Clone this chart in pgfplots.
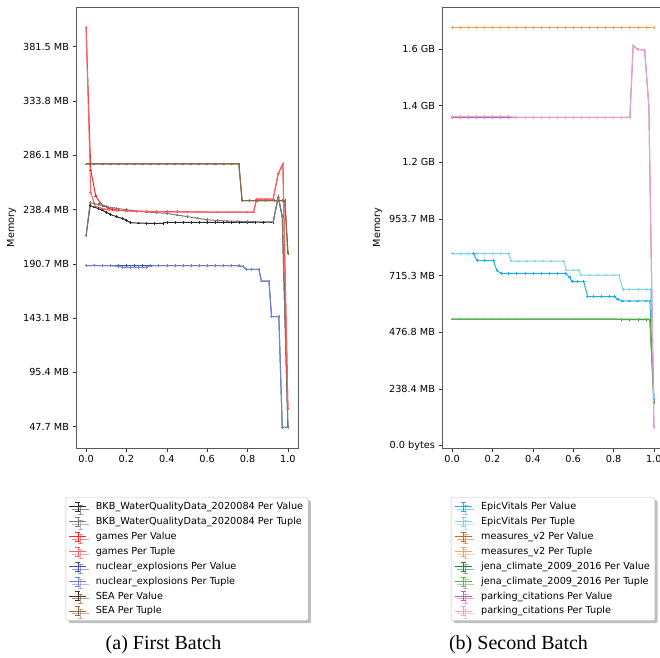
\documentclass[border=0pt]{standalone}
\usepackage{fontspec}
\setmainfont{DejaVu Sans}
\newfontfamily\capfont{Liberation Serif}
\usepackage{pgfplots}
\pgfplotsset{compat=1.18}
\usetikzlibrary{shadows}

\definecolor{bkbv}{HTML}{2B2B2B}
\definecolor{bkbt}{HTML}{7A7A7A}
\definecolor{gamv}{HTML}{EE2A2A}
\definecolor{gamt}{HTML}{FF6060}
\definecolor{nucv}{HTML}{3A4FB0}
\definecolor{nuct}{HTML}{7384C8}
\definecolor{seav}{HTML}{4B3621}
\definecolor{seat}{HTML}{8C6A3F}
\definecolor{epiv}{HTML}{18B0E8}
\definecolor{epit}{HTML}{80D2E6}
\definecolor{meav}{HTML}{D95F1E}
\definecolor{meat}{HTML}{F5A055}
\definecolor{jenv}{HTML}{1A7F37}
\definecolor{jent}{HTML}{5AB84A}
\definecolor{parv}{HTML}{C75AA8}
\definecolor{part}{HTML}{E3A3D5}

\newcommand\tickfont{\fontsize{9.7}{11}\selectfont}

\pgfplotsset{
  ser/.style={color=#1, mark=+, mark size=1.3pt, line width=1pt,
    mark options={solid, line width=0.5pt}},
  memax/.style={
    scale only axis, width=222pt, height=441pt,
    xmin=-0.05, xmax=1.05,
    axis line style={draw=black!65, line width=0.8pt},
    tick align=outside, xtick pos=bottom, ytick pos=left,
    major tick length=3.5pt, tick style={black!80, line width=0.6pt},
    xtick={0,0.2,0.4,0.6,0.8,1.0},
    xticklabels={0.0,0.2,0.4,0.6,0.8,1.0},
    ylabel={Memory}, ylabel style={font=\tickfont},
    ticklabel style={font=\tickfont},
    /pgf/number format/assume math mode=true,
    legend cell align=left,
    legend style={at={(0.5,-0.1118)}, anchor=north, font=\tickfont,
      draw=black!25, rounded corners=2pt, fill=white, drop shadow,
      row sep=2pt, column sep=7pt, inner xsep=3pt, inner ysep=3pt},
    legend image code/.code={
      \draw[#1, mark=none] (0pt,0pt) -- (17pt,0pt);
      \draw[#1, mark=none, line width=0.6pt] (8.5pt,-4.5pt) -- (8.5pt,4.5pt);
      \draw[#1, mark=none, line width=0.6pt] (6pt,4.5pt) -- (11pt,4.5pt);
      \draw[#1, mark=none, line width=0.6pt] (6pt,-4.5pt) -- (11pt,-4.5pt);
    },
  },
}

\begin{document}
\begin{tikzpicture}
\path[use as bounding box] (0,0) rectangle (660pt,-657pt);

\begin{axis}[memax, at={(76pt,-448pt)}, anchor=south west,
  ymin=29.0, ymax=416.2,
  ytick={47.68,95.37,143.05,190.73,238.42,286.10,333.79,381.47},
  yticklabels={47.7 MB,95.4 MB,143.1 MB,190.7 MB,238.4 MB,286.1 MB,333.8 MB,381.5 MB},
]
\addplot[ser=bkbv] coordinates {(0,215.4) (0.02,241.8) (0.04,240.6) (0.06,239.2) (0.08,237.8) (0.10,236.0) (0.12,234.2) (0.15,232.1) (0.18,230.5) (0.20,229.0) (0.22,226.8) (0.26,226.5) (0.30,226.3) (0.34,226.3) (0.38,226.3) (0.40,227.2) (0.44,227.2) (0.48,227.2) (0.52,227.2) (0.56,227.2) (0.60,227.2) (0.64,227.2) (0.68,227.2) (0.72,227.2) (0.76,227.2) (0.80,227.2) (0.84,227.2) (0.88,227.2) (0.927,227.2) (0.952,249.6) (0.972,232.1) (1.0,47.7)};
\addlegendentry{BKB\_WaterQualityData\_2020084 Per Value}
\addplot[ser=bkbt] coordinates {(0,215.4) (0.02,244.4) (0.04,243.6) (0.06,242.7) (0.08,241.8) (0.10,241.0) (0.15,239.5) (0.20,238.2) (0.25,237.0) (0.30,236.2) (0.35,235.6) (0.40,235.0) (0.45,233.6) (0.50,232.2) (0.55,230.8) (0.60,229.4) (0.65,228.8) (0.70,228.3) (0.75,228.0) (0.80,227.8) (0.85,227.6) (0.90,227.5) (0.927,227.5) (0.952,249.6) (0.972,232.1) (1.0,47.7)};
\addlegendentry{BKB\_WaterQualityData\_2020084 Per Tuple}
\addplot[ser=gamv] coordinates {(0,398.4) (0.023,273.1) (0.048,250.3) (0.07,244.1) (0.09,241.5) (0.11,239.7) (0.13,238.6) (0.16,237.8) (0.20,237.3) (0.25,237.0) (0.30,236.8) (0.35,236.6) (0.40,236.5) (0.45,236.4) (0.50,236.3) (0.55,236.3) (0.60,236.2) (0.65,236.2) (0.70,236.2) (0.75,236.2) (0.80,236.2) (0.83,236.2) (0.845,247.6) (0.87,247.6) (0.90,247.6) (0.927,247.6) (0.952,269.9) (0.975,278.4) (1.0,63.2)};
\addlegendentry{games Per Value}
\addplot[ser=gamt] coordinates {(0,398.4) (0.023,253.2) (0.045,241.5) (0.07,239.7) (0.09,238.8) (0.11,238.2) (0.15,237.6) (0.20,237.2) (0.25,236.9) (0.30,236.7) (0.35,236.5) (0.40,236.4) (0.45,236.3) (0.50,236.3) (0.55,236.2) (0.60,236.2) (0.65,236.2) (0.70,236.2) (0.75,236.2) (0.80,236.2) (0.83,236.2) (0.845,247.6) (0.87,247.6) (0.90,247.6) (0.927,247.6) (0.952,269.9) (0.975,278.4) (1.0,63.2)};
\addlegendentry{games Per Tuple}
\addplot[ser=nucv] coordinates {(0,189.1) (0.04,189.3) (0.08,189.1) (0.12,189.1) (0.16,189.1) (0.20,189.1) (0.24,189.1) (0.28,189.1) (0.32,189.1) (0.36,189.1) (0.40,189.1) (0.44,189.1) (0.48,189.1) (0.52,189.1) (0.56,189.1) (0.60,189.1) (0.64,189.1) (0.68,189.1) (0.72,189.1) (0.76,189.0) (0.778,188.2) (0.795,185.9) (0.82,185.9) (0.856,185.9) (0.869,175.6) (0.906,175.6) (0.919,144.3) (0.955,144.3) (0.972,47.2) (1.0,47.2)};
\addlegendentry{nuclear\_explosions Per Value}
\addplot[ser=nuct] coordinates {(0,189.1) (0.04,189.3) (0.08,189.1) (0.12,189.1) (0.16,188.6) (0.18,187.7) (0.22,187.7) (0.26,187.7) (0.30,187.7) (0.32,189.0) (0.36,189.1) (0.40,189.1) (0.44,189.1) (0.48,189.1) (0.52,189.1) (0.56,189.1) (0.60,189.1) (0.64,189.1) (0.68,189.1) (0.72,189.1) (0.76,189.0) (0.778,188.2) (0.795,185.9) (0.82,185.9) (0.856,185.9) (0.869,175.6) (0.906,175.6) (0.919,144.3) (0.955,144.3) (0.972,47.2) (1.0,47.2)};
\addlegendentry{nuclear\_explosions Per Tuple}
\addplot[ser=seav] coordinates {(0,278.4) (0.04,278.4) (0.08,278.4) (0.12,278.4) (0.16,278.4) (0.20,278.4) (0.24,278.4) (0.28,278.4) (0.32,278.4) (0.36,278.4) (0.40,278.4) (0.44,278.4) (0.48,278.4) (0.52,278.4) (0.56,278.4) (0.60,278.4) (0.64,278.4) (0.68,278.4) (0.72,278.4) (0.757,278.4) (0.773,246.1) (0.81,246.1) (0.85,246.1) (0.89,246.1) (0.93,246.1) (0.97,246.1) (0.985,246.1) (1.0,200.0)};
\addlegendentry{SEA Per Value}
\addplot[ser=seat] coordinates {(0,278.4) (0.04,278.4) (0.08,278.4) (0.12,278.4) (0.16,278.4) (0.20,278.4) (0.24,278.4) (0.28,278.4) (0.32,278.4) (0.36,278.4) (0.40,278.4) (0.44,278.4) (0.48,278.4) (0.52,278.4) (0.56,278.4) (0.60,278.4) (0.64,278.4) (0.68,278.4) (0.72,278.4) (0.757,278.4) (0.773,246.1) (0.81,246.1) (0.85,246.1) (0.89,246.1) (0.93,246.1) (0.97,246.1) (0.985,246.1) (1.0,200.0)};
\addlegendentry{SEA Per Tuple}
\end{axis}

\begin{axis}[memax, at={(442pt,-448pt)}, anchor=south west,
  ymin=-9.7, ymax=1845.6,
  ytick={0,238.42,476.84,715.26,953.67,1192.09,1430.51,1668.93},
  yticklabels={0.0 bytes,238.4 MB,476.8 MB,715.3 MB,953.7 MB,1.2 GB,1.4 GB,1.6 GB},
]
\addplot[ser=epiv] coordinates {(0,807.7) (0.04,807.7) (0.08,807.7) (0.106,807.7) (0.123,778.3) (0.16,778.3) (0.205,778.3) (0.222,736.2) (0.243,725.3) (0.28,725.3) (0.32,725.3) (0.36,725.3) (0.40,725.3) (0.44,725.3) (0.48,725.3) (0.52,725.3) (0.561,725.3) (0.583,708.5) (0.594,690.0) (0.62,690.0) (0.652,690.0) (0.672,626.8) (0.70,626.8) (0.74,626.8) (0.78,626.8) (0.805,626.8) (0.821,616.0) (0.845,608.8) (0.88,608.8) (0.92,608.8) (0.96,608.8) (0.98,608.8) (1.0,199.4)};
\addlegendentry{EpicVitals Per Value}
\addplot[ser=epit] coordinates {(0,807.7) (0.04,807.7) (0.08,807.7) (0.12,807.7) (0.16,807.7) (0.20,807.7) (0.24,807.7) (0.28,807.7) (0.293,777.0) (0.33,777.0) (0.37,777.0) (0.41,777.0) (0.45,777.0) (0.49,777.0) (0.553,777.0) (0.566,739.2) (0.60,739.2) (0.627,739.2) (0.639,718.1) (0.68,718.1) (0.72,718.1) (0.76,718.1) (0.80,718.1) (0.826,718.1) (0.846,658.0) (0.88,658.0) (0.92,658.0) (0.96,658.0) (0.984,658.0) (1.0,202.0)};
\addlegendentry{EpicVitals Per Tuple}
\addplot[ser=meav] coordinates {(0,1758.5) (0.04,1758.5) (0.08,1758.5) (0.12,1758.5) (0.16,1758.5) (0.20,1758.5) (0.24,1758.5) (0.28,1758.5) (0.32,1758.5) (0.36,1758.5) (0.40,1758.5) (0.44,1758.5) (0.48,1758.5) (0.52,1758.5) (0.56,1758.5) (0.60,1758.5) (0.64,1758.5) (0.68,1758.5) (0.72,1758.5) (0.76,1758.5) (0.80,1758.5) (0.84,1758.5) (0.88,1758.5) (0.92,1758.5) (0.96,1758.5) (1.0,1758.5)};
\addlegendentry{measures\_v2 Per Value}
\addplot[ser=meat] coordinates {(0,1758.5) (0.04,1758.5) (0.08,1758.5) (0.12,1758.5) (0.16,1758.5) (0.20,1758.5) (0.24,1758.5) (0.28,1758.5) (0.32,1758.5) (0.36,1758.5) (0.40,1758.5) (0.44,1758.5) (0.48,1758.5) (0.52,1758.5) (0.56,1758.5) (0.60,1758.5) (0.64,1758.5) (0.68,1758.5) (0.72,1758.5) (0.76,1758.5) (0.80,1758.5) (0.84,1758.5) (0.88,1758.5) (0.92,1758.5) (0.96,1758.5) (1.0,1758.5)};
\addlegendentry{measures\_v2 Per Tuple}
\addplot[ser=jenv] coordinates {(0,533) (0.04,533) (0.08,533) (0.12,533) (0.16,533) (0.20,533) (0.24,533) (0.28,533) (0.32,533) (0.36,533) (0.40,533) (0.44,533) (0.48,533) (0.52,533) (0.56,533) (0.60,533) (0.64,533) (0.68,533) (0.72,533) (0.76,533) (0.80,533) (0.84,531) (0.88,530) (0.92,530) (0.96,530) (0.98,530) (1.0,181)};
\addlegendentry{jena\_climate\_2009\_2016 Per Value}
\addplot[ser=jent] coordinates {(0,533) (0.04,533) (0.08,533) (0.12,533) (0.16,533) (0.20,533) (0.24,533) (0.28,533) (0.32,533) (0.36,533) (0.40,533) (0.44,533) (0.48,533) (0.52,533) (0.56,533) (0.60,533) (0.64,533) (0.68,533) (0.72,533) (0.76,533) (0.80,533) (0.84,533) (0.88,533) (0.92,533) (0.96,533) (0.98,533) (1.0,181)};
\addlegendentry{jena\_climate\_2009\_2016 Per Tuple}
\addplot[ser=parv] coordinates {(0,1381.6) (0.04,1381.6) (0.08,1381.6) (0.12,1381.6) (0.16,1381.6) (0.20,1381.6) (0.24,1381.6) (0.28,1381.6) (0.32,1381.6) (0.36,1381.6) (0.40,1381.6) (0.44,1381.6) (0.48,1381.6) (0.52,1381.6) (0.56,1381.6) (0.60,1381.6) (0.64,1381.6) (0.68,1381.6) (0.72,1381.6) (0.76,1381.6) (0.80,1381.6) (0.84,1381.6) (0.881,1381.6) (0.897,1682.8) (0.92,1667.6) (0.954,1664.7) (0.975,1429.1) (1.0,77.4)};
\addlegendentry{parking\_citations Per Value}
\addplot[ser=part] coordinates {(0,1384) (0.04,1384) (0.08,1384) (0.12,1384) (0.16,1384) (0.20,1384) (0.24,1384) (0.28,1384) (0.32,1381.6) (0.36,1381.6) (0.40,1381.6) (0.44,1381.6) (0.48,1381.6) (0.52,1381.6) (0.56,1381.6) (0.60,1381.6) (0.64,1381.6) (0.68,1381.6) (0.72,1381.6) (0.76,1381.6) (0.80,1381.6) (0.84,1381.6) (0.881,1381.6) (0.897,1682.8) (0.92,1667.6) (0.954,1664.7) (0.975,1429.1) (1.0,77.4)};
\addlegendentry{parking\_citations Per Tuple}
\end{axis}

\node[font=\capfont\fontsize{20}{22}\selectfont] at (163.5pt,-645pt) {(a) First Batch};
\node[font=\capfont\fontsize{20}{22}\selectfont] at (518.5pt,-645pt) {(b) Second Batch};
\end{tikzpicture}
\end{document}
